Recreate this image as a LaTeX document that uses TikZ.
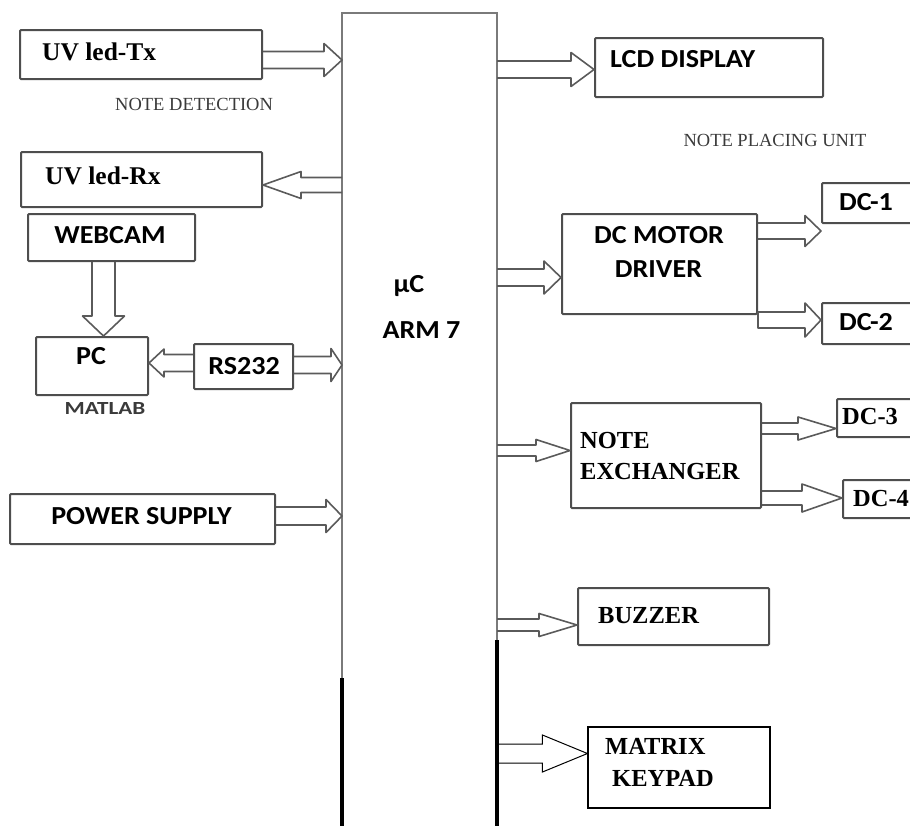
\documentclass[tikz,border=0pt]{standalone}
\usepackage{fontspec}
\setmainfont{Liberation Serif}
\newfontfamily\calfont[FakeStretch=1.08]{Carlito}
\newfontfamily\calwide[FakeStretch=1.25]{Carlito}
\usetikzlibrary{calc}
\definecolor{boxgray}{HTML}{4E4E4E}
\definecolor{arrgray}{HTML}{5A5A5A}
\definecolor{linegray}{HTML}{7A7A7A}
\definecolor{labgray}{HTML}{3A3A3A}
% horizontal block arrow: style, start, tip, shaft half, head half, head length
\newcommand\hblock[6]{\draw[#1] let \p1=#2, \p2=#3 in
  (\x1,{\y2+#4pt}) -- ({\x2-(#6pt)},{\y2+#4pt}) -- ({\x2-(#6pt)},{\y2+#5pt}) -- (\x2,\y2)
  -- ({\x2-(#6pt)},{\y2-#5pt}) -- ({\x2-(#6pt)},{\y2-#4pt}) -- (\x1,{\y2-#4pt});}
\newcommand\hblockc[6]{\draw[#1] let \p1=#2, \p2=#3 in
  (\x1,{\y2+#4pt}) -- ({\x2-(#6pt)},{\y2+#4pt}) -- ({\x2-(#6pt)},{\y2+#5pt}) -- (\x2,\y2)
  -- ({\x2-(#6pt)},{\y2-#5pt}) -- ({\x2-(#6pt)},{\y2-#4pt}) -- (\x1,{\y2-#4pt}) -- cycle;}
% vertical block arrow (downwards)
\newcommand\vblock[6]{\draw[#1] let \p1=#2, \p2=#3 in
  ({\x2+#4pt},\y1) -- ({\x2+#4pt},{\y2+#6pt}) -- ({\x2+#5pt},{\y2+#6pt}) -- (\x2,\y2)
  -- ({\x2-#5pt},{\y2+#6pt}) -- ({\x2-#4pt},{\y2+#6pt}) -- ({\x2-#4pt},\y1);}
\begin{document}
\begin{tikzpicture}[x=1pt,y=-1pt,
  box/.style={draw=boxgray, line width=2pt, rounded corners=1pt, inner sep=0pt},
  thinbox/.style={draw=black, line width=1.1pt, inner sep=0pt},
  blk/.style={draw=arrgray, line width=1.6pt, line join=round},
  thinblk/.style={draw=black, line width=1pt, line join=miter},
  sanstxt/.style={font=\calfont\bfseries\fontsize{26}{30}\selectfont, inner sep=0pt},
  serftxt/.style={font=\bfseries\fontsize{24.5}{30}\selectfont, inner sep=0pt},
  uvtxt/.style={font=\bfseries\fontsize{25.5}{30}\selectfont, inner sep=0pt},
  smalltxt/.style={font=\fontsize{18.5}{22}\selectfont, text=labgray, inner sep=0pt},
  mainline/.style={draw=linegray, line width=2pt},
  mainbold/.style={draw=black, line width=3.8pt}]
\useasboundingbox (0,0) rectangle (910,825);
\clip (0,0) rectangle (910,825);

% main controller column
\node[inner sep=0pt, outer sep=0pt, minimum width=155, minimum height=817] (mc) at (419.5,421.5) {};
\draw[mainline] (mc.south west |- 0,678) -- (mc.north west) -- (mc.north east) -- (mc.south east |- 0,641);
\draw[mainbold] (mc.south west |- 0,678) -- (mc.south west);
\draw[mainbold] (mc.south east |- 0,640) -- (mc.south east);
\node[sanstxt, anchor=base] (tmu) at (409,292) {µC};
\node[sanstxt, anchor=base] (tarm) at (421.5,338) {ARM 7};

% left side boxes
\node[box, minimum width=242, minimum height=49] (ledtx) at (141,54.5) {};
\node[uvtxt, anchor=base west] (tledtx) at (42,60) {UV led-Tx};
\node[smalltxt, anchor=base west] (tdet) at (115,110) {NOTE DETECTION};

\node[box, minimum width=241, minimum height=55] (ledrx) at (141.5,179.5) {};
\node[uvtxt, anchor=base west] (tledrx) at (45,184) {UV led-Rx};

\node[box, minimum width=167, minimum height=47] (webcam) at (111.5,237.5) {};
\node[sanstxt, anchor=base] (twebcam) at (110,243) {WEBCAM};

\node[box, minimum width=112, minimum height=58] (pc) at (92,366) {};
\node[sanstxt, anchor=base] (tpc) at (91,364) {PC};
\node[font=\calwide\bfseries\fontsize{18.5}{22}\selectfont, text=labgray, inner sep=0pt, anchor=base] (tmatlab) at (105,414) {MATLAB};

\node[box, minimum width=99, minimum height=45] (rs232) at (243.5,366.5) {};
\node[sanstxt, anchor=base] (trs) at (244,374) {RS232};

\node[box, minimum width=265, minimum height=50] (power) at (142.5,519) {};
\node[sanstxt, anchor=base] (tpower) at (141.5,524) {POWER SUPPLY};

% right side boxes
\node[box, minimum width=228, minimum height=59] (lcd) at (709,67.5) {};
\node[sanstxt, anchor=base west] (tlcd) at (610,67) {LCD DISPLAY};
\node[smalltxt, anchor=base] (tplace) at (775,146) {NOTE PLACING UNIT};

\node[box, minimum width=195, minimum height=100] (driver) at (659.5,264) {};
\node[sanstxt, anchor=base] (tdrv1) at (659,243) {DC MOTOR};
\node[sanstxt, anchor=base] (tdrv2) at (658.5,277) {DRIVER};

\node[box, minimum width=118, minimum height=40] (dc1) at (881,203) {};
\node[sanstxt, anchor=base] (tdc1) at (866,210) {DC-1};
\node[box, minimum width=118, minimum height=41] (dc2) at (881,323.5) {};
\node[sanstxt, anchor=base] (tdc2) at (866,330) {DC-2};

\node[box, minimum width=190, minimum height=105] (exch) at (666,455.5) {};
\node[serftxt, anchor=base west] (tex1) at (580,448) {NOTE};
\node[serftxt, anchor=base west] (tex2) at (580,479) {EXCHANGER};

\node[box, minimum width=103, minimum height=38] (dc3) at (888.5,418) {};
\node[serftxt, anchor=base west] (tdc3) at (842,424) {DC-3};
\node[box, minimum width=97, minimum height=38] (dc4) at (891.5,499) {};
\node[serftxt, anchor=base west] (tdc4) at (853,506) {DC-4};

\node[box, minimum width=191, minimum height=57] (buzzer) at (673.5,616.5) {};
\node[serftxt, anchor=base west] (tbuz) at (598,623) {BUZZER};

\node[thinbox, minimum width=182, minimum height=81] (keypad) at (679,767.5) {};
\node[serftxt, anchor=base west] (tkp1) at (605,754) {MATRIX};
\node[serftxt, anchor=base west] (tkp2) at (612,786) {KEYPAD};

% block arrows
\hblock{blk}{(ledtx.east)}{(mc.west |- 0,60)}{8.5}{16.5}{18}
\hblock{blk}{(mc.west |- 0,185)}{(ledrx.east |- 0,185)}{7.5}{13.5}{-38}
\vblock{blk}{(webcam.south)}{(pc.north -| 103.5,0)}{11.5}{21}{20}
\hblock{blk}{(rs232.west)}{(pc.east |- 0,363)}{8.5}{14}{-15}
\hblock{blk}{(rs232.east)}{(mc.west |- 0,365)}{8.5}{16.5}{11}
\hblock{blk}{(power.east)}{(mc.west |- 0,516)}{9}{16.5}{16}
\hblock{blk}{(mc.east |- 0,69.5)}{(lcd.west |- 0,69.5)}{8.5}{17}{23}
\hblock{blk}{(mc.east |- 0,277.5)}{(driver.west |- 0,277.5)}{8.5}{16.5}{17}
\hblock{blk}{(driver.east |- 0,231)}{(dc1.west |- 0,231)}{8}{15.5}{16}
\hblockc{blk}{(driver.east |- 0,320)}{(dc2.west |- 0,320)}{8}{17}{16}
\hblock{blk}{(mc.east |- 0,450.5)}{(exch.west |- 0,450.5)}{5.5}{11}{34}
\hblock{blk}{(exch.east |- 0,428.5)}{(dc3.west |- 0,428.5)}{5.5}{11.5}{38}
\hblock{blk}{(exch.east |- 0,498)}{(dc4.west |- 0,498)}{7}{14}{40}
\hblock{blk}{(mc.east |- 0,625)}{(buzzer.west |- 0,625)}{6}{11.5}{38}
\hblock{thinblk}{(mc.east |- 0,753.5)}{(keypad.west |- 0,753.5)}{9.5}{18.5}{45}
\end{tikzpicture}
\end{document}
